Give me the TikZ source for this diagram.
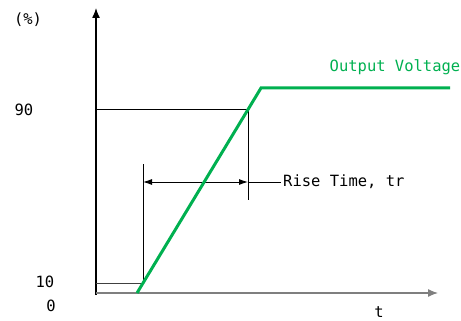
\documentclass[tikz,border=0pt]{standalone}
\usepackage{fontspec}
\setmainfont{DejaVu Sans Mono}
\usetikzlibrary{arrows.meta, positioning}
\definecolor{verdeSalida}{HTML}{00B050}
\definecolor{grisEje}{HTML}{7F7F7F}

\begin{document}
\begin{tikzpicture}[x=1pt, y=-1pt, font=\fontsize{15.5}{18}\selectfont, >=Latex,
        lbl/.style={inner sep=0, anchor=center},
        eje/.style={-{Latex[length=10pt, width=8pt]}, line width=1.3pt},
        guia/.style={line width=0.9pt},
        senal/.style={verdeSalida, line width=3pt},
        cota/.style={{Latex[length=9pt, width=6pt]}-{Latex[length=9pt, width=6pt]}, line width=0.9pt}]
        \useasboundingbox (0,0) rectangle (461,321);
        % ejes
        \coordinate (o) at (96,293);
        \coordinate (ytop) at (96,8);
        \coordinate (xend) at (438,293);
        \draw[eje] (96,295) -- (ytop);
        \draw[eje, grisEje] (o) -- (xend);
        % niveles 90 y 10
        \coordinate (p90) at (248,109);
        \coordinate (p90b) at (248,200);
        \coordinate (p10) at (143,283);
        \coordinate (p10t) at (143,164);
        \draw[guia] (96,109) -- (p90) -- (p90b);
        \draw[guia, black!75] (96,283) -- (p10);
        \draw[guia] (p10t) -- (p10);
        % tiempo de subida
        \coordinate (ca) at (143,182);
        \coordinate (cb) at (248,182);
        \coordinate (cc) at (281,182);
        \draw[cota] (ca) -- (cb);
        \draw[guia] (cb) -- (cc);
        \node[lbl, anchor=south west] (tr) at (283,189) {Rise Time, tr};
        % salida
        \coordinate (s0) at (137,293);
        \coordinate (s1) at (261,88);
        \coordinate (s2) at (450,88);
        \draw[senal] (s0) -- (s1) -- (s2);
        \node[lbl, verdeSalida] (vout) at (395,67) {Output Voltage};
        % rotulos
        \node[lbl] (pct) at (28,20) {(\%)};
        \node[lbl] (n90) at (24,110) {90};
        \node[lbl] (n10) at (45,282) {10};
        \node[lbl] (n0) at (51,306) {0};
        \node[lbl] (t) at (379,312) {t};
    \end{tikzpicture}
\end{document}
